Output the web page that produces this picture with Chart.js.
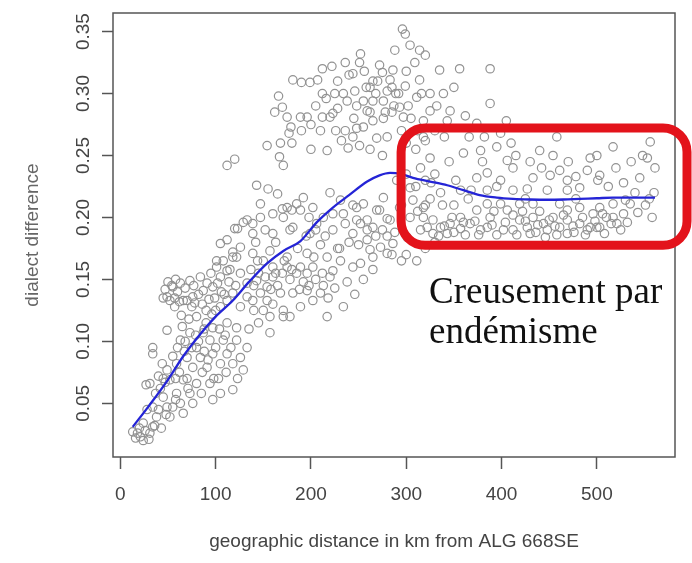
<!DOCTYPE html>
<html>
<head>
<meta charset="utf-8">
<script src="https://cdn.jsdelivr.net/npm/chart.js@4.4.1/dist/chart.umd.min.js"></script>
<style>
  html,body{margin:0;padding:0;background:#fff;}
</style>
</head>
<body>
<canvas id="chart" width="692" height="563"></canvas>
<script>
// pairwise dialect distance vs geographic distance, [km, difference]
const nearPoints = [
  [13,0.027],[16,0.022],[18,0.026],[21,0.023],[24,0.02],[24,0.034],[26,0.028],[30,0.021],[31,0.026],[34,0.031],
  [36,0.032],[38,0.039],[40,0.045],[43,0.03],[34,0.047],[48,0.041],[49,0.047],[52,0.039],[55,0.047],[45,0.055],
  [58,0.053],[63,0.05],[66,0.042],[59,0.058],[73,0.058],[76,0.05],[97,0.053],[105,0.058],[118,0.061],[31,0.066],
  [27,0.065],[47,0.067],[49,0.077],[52,0.069],[66,0.069],[80,0.066],[94,0.066],[40,0.072],[44,0.082],[59,0.082],
  [76,0.079],[91,0.079],[105,0.082],[118,0.082],[129,0.077],[70,0.087],[84,0.087],[97,0.09],[112,0.09],[126,0.087],
  [80,0.095],[94,0.101],[108,0.101],[122,0.101],[63,0.101],[73,0.107],[87,0.107],[97,0.111],[112,0.115],[122,0.111],
  [49,0.109],[34,0.095],[34,0.09],[60,0.095],[68,0.1],[75,0.095],[82,0.1],[88,0.092],[92,0.085],[100,0.095],
  [104,0.11],[110,0.105],[116,0.095],[86,0.075],[98,0.07],[70,0.07],[62,0.075],[55,0.088],[45,0.07],[80,0.12],
  [90,0.115],[100,0.125],[72,0.118],[65,0.112],[49,0.136],[55,0.144],[63,0.147],[73,0.149],[84,0.152],[91,0.147],
  [52,0.133],[66,0.133],[76,0.136],[87,0.141],[97,0.144],[105,0.152],[112,0.157],[126,0.155],[112,0.133],[105,0.128],
  [126,0.128],[118,0.139],[45,0.135],[47,0.142],[50,0.148],[54,0.145],[57,0.135],[58,0.15],[60,0.14],[62,0.132],
  [68,0.143],[70,0.133],[75,0.128],[77,0.145],[82,0.138],[86,0.13],[90,0.125],[95,0.155],[99,0.135],[101,0.16],
  [106,0.14],[108,0.165],[115,0.158],[118,0.172],[122,0.168],[105,0.179],[101,0.165],[118,0.168],[126,0.176],[112,0.182],
  [123,0.191],[120,0.191],[129,0.196],[112,0.242],[120,0.247],[57,0.128],[64,0.121],[78,0.131],[93,0.134],[102,0.147],
  [109,0.138],[114,0.148],[121,0.145],[96,0.122],[88,0.11],[79,0.105],[67,0.092],[58,0.07],[71,0.062],[85,0.058],
  [103,0.07],[111,0.075],[123,0.07],[37,0.058],[42,0.062],[28,0.045],[20,0.03]
];
const midPoints = [
  [139,0.133],[133,0.136],[133,0.147],[143,0.149],[147,0.139],[154,0.144],[154,0.133],[160,0.152],[171,0.125],[189,0.128],
  [202,0.133],[210,0.139],[220,0.152],[196,0.141],[181,0.139],[168,0.139],[178,0.12],[157,0.12],[171,0.12],[217,0.12],
  [234,0.128],[157,0.107],[133,0.095],[139,0.171],[157,0.173],[175,0.168],[196,0.171],[217,0.168],[231,0.165],[252,0.163],
  [265,0.168],[280,0.171],[244,0.16],[223,0.157],[202,0.16],[189,0.16],[175,0.16],[147,0.211],[160,0.203],[175,0.208],
  [189,0.206],[202,0.208],[223,0.203],[248,0.208],[259,0.198],[269,0.206],[283,0.198],[133,0.198],[139,0.187],[160,0.187],
  [181,0.192],[223,0.19],[244,0.187],[259,0.182],[273,0.176],[286,0.179],[154,0.258],[168,0.26],[167,0.249],[171,0.242],
  [166,0.298],[170,0.289],[162,0.285],[175,0.281],[179,0.273],[177,0.268],[181,0.311],[190,0.309],[199,0.309],[207,0.311],
  [189,0.281],[196,0.281],[212,0.281],[220,0.281],[216,0.296],[225,0.3],[234,0.3],[246,0.302],[236,0.325],[251,0.325],
  [244,0.316],[275,0.317],[286,0.319],[238,0.294],[255,0.294],[259,0.286],[265,0.294],[276,0.294],[280,0.302],[223,0.284],
  [236,0.27],[248,0.272],[255,0.273],[265,0.278],[276,0.28],[244,0.265],[239,0.256],[217,0.254],[251,0.258],[280,0.265],
  [269,0.264],[143,0.226],[155,0.223],[165,0.219],[192,0.216],[185,0.211],[180,0.206],[147,0.2],[139,0.195],[170,0.207],
  [220,0.22],[231,0.214],[244,0.21],[255,0.211],[276,0.216],[272,0.206],[280,0.199],[234,0.203],[248,0.198],[259,0.19],
  [206,0.195],[199,0.187],[178,0.19],[171,0.2],[205,0.29],[212,0.3],[228,0.31],[240,0.315],[262,0.305],[270,0.31],
  [285,0.305],[256,0.318],[226,0.27],[232,0.262],[210,0.27],[200,0.275],[262,0.285],[248,0.29],[285,0.285],[262,0.255],
  [275,0.25],[230,0.175],[240,0.18],[250,0.178],[262,0.174],[268,0.185],[280,0.185],[210,0.178],[195,0.185],[205,0.19],
  [215,0.185],[140,0.145],[145,0.155],[150,0.165],[160,0.16],[165,0.145],[170,0.155],[178,0.15],[185,0.155],[192,0.148],
  [198,0.145],[205,0.15],[212,0.155],[150,0.125],[160,0.13],[140,0.125],[135,0.11],[145,0.115],[265,0.158],[285,0.17],
  [272,0.323],[283,0.311],[288,0.335],[289,0.3],[137,0.158],[144,0.165],[152,0.152],[158,0.142],[163,0.155],[172,0.165],
  [180,0.158],[188,0.142],[196,0.155],[203,0.168],[213,0.145],[225,0.143],[238,0.148],[246,0.138],[255,0.15],[218,0.135],
  [228,0.175],[236,0.195],[252,0.195],[265,0.192],[275,0.19],[288,0.188],[142,0.18],[152,0.19],[163,0.18],[186,0.175],
  [198,0.2],[213,0.2],[180,0.26],[190,0.27],[200,0.255],[228,0.288],[245,0.28],[258,0.305],[268,0.3],[278,0.285],
  [287,0.29],[212,0.32],[222,0.322],[252,0.332],[265,0.31]
];
const farPoints = [
  [296,0.352],[299,0.348],[304,0.339],[314,0.335],[309,0.325],[320,0.331],[299,0.306],[314,0.311],[335,0.319],[356,0.32],
  [388,0.32],[362,0.282],[346,0.286],[325,0.286],[293,0.289],[311,0.297],[325,0.3],[339,0.3],[388,0.292],[297,0.281],
  [318,0.278],[343,0.278],[374,0.276],[318,0.265],[325,0.248],[360,0.252],[378,0.254],[395,0.257],[399,0.268],[458,0.265],
  [406,0.246],[440,0.254],[454,0.25],[493,0.248],[500,0.25],[517,0.257],[556,0.261],[553,0.248],[561,0.24],[374,0.232],
  [385,0.236],[399,0.23],[412,0.24],[433,0.232],[451,0.234],[461,0.238],[469,0.23],[503,0.234],[501,0.23],[545,0.232],
  [336,0.22],[357,0.222],[385,0.222],[412,0.222],[427,0.223],[448,0.222],[469,0.222],[482,0.224],[304,0.224],[307,0.214],
  [318,0.208],[318,0.2],[328,0.198],[336,0.192],[346,0.195],[357,0.2],[367,0.195],[374,0.206],[385,0.211],[399,0.211],
  [406,0.206],[412,0.202],[419,0.198],[427,0.192],[433,0.2],[444,0.195],[454,0.2],[461,0.192],[469,0.198],[482,0.195],
  [493,0.192],[503,0.192],[496,0.203],[517,0.211],[528,0.203],[535,0.211],[532,0.196],[315,0.19],[328,0.187],[343,0.187],
  [357,0.191],[378,0.19],[385,0.192],[412,0.19],[430,0.187],[448,0.19],[469,0.187],[490,0.19],[500,0.192],[419,0.211],
  [433,0.211],[461,0.211],[482,0.208],[469,0.206],[517,0.2],[503,0.208],[304,0.2],[293,0.208],[301,0.184],[311,0.165],
  [340,0.193],[350,0.188],[362,0.186],[372,0.197],[390,0.194],[395,0.186],[404,0.196],[425,0.197],[438,0.194],[450,0.198],
  [458,0.186],[475,0.193],[485,0.2],[508,0.187],[515,0.195],[525,0.19],[320,0.21],[350,0.21],[365,0.215],[392,0.205],
  [440,0.205],[478,0.215],[510,0.2],[520,0.24],[540,0.22],[555,0.215],[560,0.22],[548,0.25],[490,0.238],[470,0.245],
  [430,0.245],[415,0.25],[380,0.245],[345,0.245],[330,0.235],[300,0.235],[310,0.225],[320,0.23],[325,0.215],[295,0.21],
  [315,0.24],[300,0.17],[320,0.175],[330,0.18],[295,0.165],[300,0.26],[310,0.255],[320,0.262],[330,0.27],[340,0.265],
  [292,0.3],[300,0.318],[305,0.28],[312,0.27],[295,0.27],[290,0.23],[322,0.192],[334,0.185],[348,0.2],[360,0.196],
  [376,0.186],[388,0.2],[402,0.19],[416,0.186],[422,0.205],[436,0.188],[446,0.184],[456,0.193],[465,0.202],[476,0.188],
  [488,0.186],[498,0.197],[506,0.203],[521,0.195],[530,0.214],[543,0.204],[551,0.21],[558,0.2],[312,0.205],[326,0.228],
  [338,0.21],[352,0.23],[368,0.222],[395,0.225],[425,0.215],[442,0.24],[478,0.233],[512,0.225],[528,0.228],[536,0.245],
  [302,0.29],[316,0.3],[332,0.29],[350,0.305],[366,0.265],[382,0.265],[405,0.278],[410,0.26]
];

// smoothed trend (loess)
const trendKm   = [13,30,49,66,84,100,118,135,154,171,189,206,223,240,259,272,283,295,307,325,343,360,377,395,412,430,448,465,482,500,517,540,561];
const trendDiff = [0.031,0.048,0.068,0.088,0.106,0.12,0.133,0.148,0.163,0.173,0.181,0.196,0.208,0.218,0.229,0.234,0.236,0.235,0.232,0.229,0.226,0.222,0.218,0.216,0.215,0.2145,0.2143,0.2145,0.215,0.2155,0.216,0.216,0.216];

const xTicks = [0,100,200,300,400,500];
const yTicks = [0.05,0.10,0.15,0.20,0.25,0.30,0.35];

// highlighted plateau and its caption
const boxKm = [294.6, 594.6];
const boxDiff = [0.1775, 0.2722];
const noteLines = ['Creusement par', 'endémisme'];
const noteAt = [324, 0.1308];

const sans = '"Liberation Sans", Arial, Helvetica, sans-serif';

const allPoints = nearPoints.concat(midPoints, farPoints);

const decorations = {
  id: 'decorations',
  afterDraw(chart){
    const {ctx, chartArea:a, scales:{x, y}} = chart;
    ctx.save();
    // R-style frame
    ctx.strokeStyle = '#555';
    ctx.lineWidth = 1.5;
    ctx.strokeRect(a.left, a.top, a.right - a.left, a.bottom - a.top);

    // y tick labels, rotated parallel to the axis
    ctx.fillStyle = '#444';
    ctx.font = '19px ' + sans;
    ctx.textAlign = 'center';
    ctx.textBaseline = 'middle';
    y.ticks.forEach(t => {
      ctx.save();
      ctx.translate(a.left - 29, y.getPixelForValue(t.value));
      ctx.rotate(-Math.PI/2);
      ctx.fillText(t.value.toFixed(2), 0, 0);
      ctx.restore();
    });

    // red rounded box
    const x0 = x.getPixelForValue(boxKm[0]), x1 = x.getPixelForValue(boxKm[1]);
    const y0 = y.getPixelForValue(boxDiff[1]), y1 = y.getPixelForValue(boxDiff[0]);
    ctx.strokeStyle = '#e3131b';
    ctx.lineWidth = 9;
    ctx.beginPath();
    ctx.roundRect(x0, y0, x1 - x0, y1 - y0, 24);
    ctx.stroke();

    // caption
    ctx.fillStyle = '#111';
    ctx.font = '37px "Liberation Serif", "Times New Roman", serif';
    ctx.textAlign = 'left';
    ctx.textBaseline = 'alphabetic';
    const tx = x.getPixelForValue(noteAt[0]), ty = y.getPixelForValue(noteAt[1]);
    noteLines.forEach((s, i) => ctx.fillText(s, tx, ty + i*40));
    ctx.restore();
  }
};

new Chart(document.getElementById('chart'), {
  data: {
    datasets: [
      {
        type: 'line',
        order: 0,
        data: trendKm.map((k, i) => ({x: k, y: trendDiff[i]})),
        borderColor: '#2424d6',
        borderWidth: 2.3,
        pointRadius: 0,
        fill: false,
        cubicInterpolationMode: 'monotone'
      },
      {
        type: 'scatter',
        order: 1,
        data: allPoints.map(p => ({x: p[0], y: p[1]})),
        pointStyle: 'circle',
        pointRadius: 4.2,
        backgroundColor: 'rgba(0,0,0,0)',
        borderColor: '#929292',
        borderWidth: 1.2
      }
    ]
  },
  options: {
    responsive: false,
    animation: false,
    devicePixelRatio: 1,
    layout: {padding: {top: 13, right: 17, left: 0, bottom: 0}},
    plugins: {legend: {display: false}, tooltip: {enabled: false}},
    scales: {
      x: {
        type: 'linear',
        min: -7.7, max: 582,
        afterBuildTicks: s => { s.ticks = xTicks.map(v => ({value: v})); },
        afterFit: s => { s.height = 106; },
        border: {display: false},
        grid: {drawOnChartArea: false, drawTicks: true, tickLength: 12, tickColor: '#555', tickWidth: 1.5},
        ticks: {padding: 14, color: '#444', maxRotation: 0, autoSkip: false, font: {family: sans, size: 19}},
        title: {display: true, text: 'geographic distance in km from ALG 668SE', color: '#444',
                font: {family: sans, size: 19}, padding: {top: 0, bottom: 10}}
      },
      y: {
        type: 'linear',
        min: 0.0067, max: 0.365,
        afterBuildTicks: s => { s.ticks = yTicks.map(v => ({value: v})); },
        afterFit: s => { s.width = 113; },
        border: {display: false},
        grid: {drawOnChartArea: false, drawTicks: true, tickLength: 11, tickColor: '#555', tickWidth: 1.5},
        ticks: {display: false},
        title: {display: true, text: 'dialect difference', color: '#666',
                font: {family: sans, size: 19}, padding: {top: 21, bottom: 0}}
      }
    }
  },
  plugins: [decorations]
});
</script>
</body>
</html>
